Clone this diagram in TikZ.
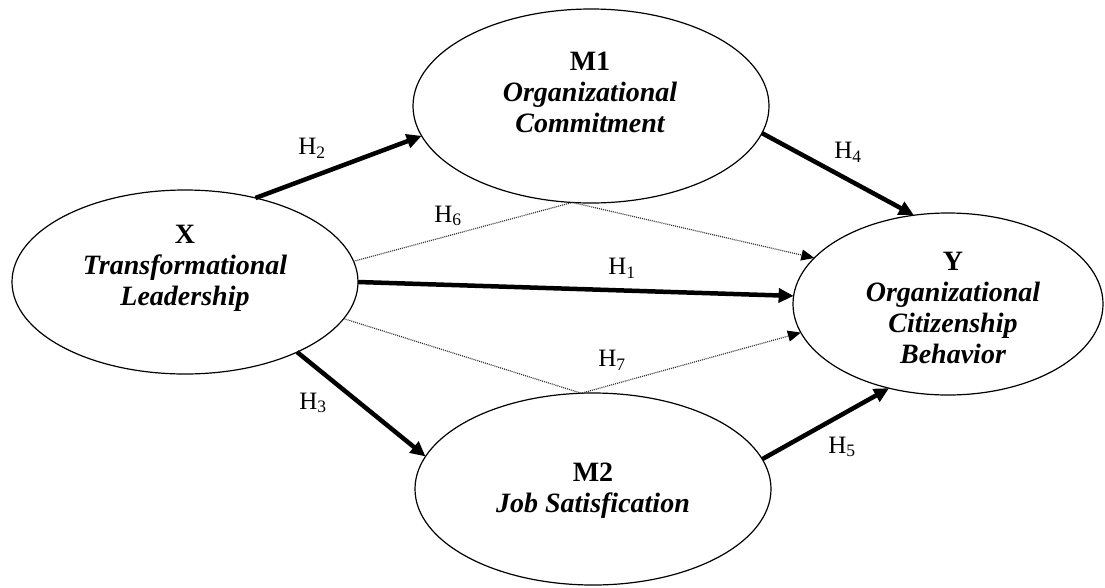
\documentclass[tikz,border=0pt]{standalone}
\usepackage{fontspec}
\setmainfont{Liberation Serif}
\usetikzlibrary{shapes.geometric,arrows.meta}

\begin{document}
\begin{tikzpicture}[x=1pt,y=-1pt]
        \tikzset{construct/.style={draw,ellipse,line width=1.2pt,inner sep=0pt,outer sep=0pt},
                 caption/.style={align=center,font=\fontsize{28}{31}\selectfont\bfseries},
                 direct/.style={line width=4.5pt,-{Triangle[length=15pt,width=14pt]}},
                 indirect/.style={line width=1.2pt,black!80,dash pattern=on 1pt off 1pt,
                                  -{Triangle[length=13pt,width=11pt,color=black]}},
                 hyp/.style={font=\fontsize{25}{25}\selectfont,inner sep=0pt}}
        \useasboundingbox (0,0) rectangle (1105,587);

        \node[construct, minimum width=346pt, minimum height=184pt] (x)  at (185,282) {};
        \node[construct, minimum width=356pt, minimum height=194pt] (m1) at (591,106) {};
        \node[construct, minimum width=310pt, minimum height=182pt] (y)  at (948,304) {};
        \node[construct, minimum width=356pt, minimum height=192pt] (m2) at (593,489) {};

        \node[caption] (xtext)  at (185,268) {X\\\itshape Transformational\\\itshape Leadership};
        \node[caption] (m1text) at (590,92)  {M1\\\itshape Organizational\\\itshape Commitment};
        \node[caption] (ytext)  at (953,308) {Y\\\itshape Organizational\\\itshape Citizenship\\\itshape Behavior};
        \node[caption] (m2text) at (593,491) {M2\\\itshape Job Satisfication};

        \draw[direct] (x.0) -- (y.177.8);
        \draw[direct] (x.50) -- (m1.190.6);
        \draw[direct] (x.-32.9) -- (m2.169.5);
        \draw[direct] (m1.-9.5) -- (y.111.4);
        \draw[direct] (m2.10) -- (y.235.4);

        \draw[indirect] (x.7.3) -- (m1.259.5) -- (y.161.9);
        \draw[indirect] (x.-13.4) -- (m2.97.7) -- (y.191.5);

        \node[hyp] (h1) at (622,268) {H\textsubscript{1}};
        \node[hyp] (h2) at (312,148) {H\textsubscript{2}};
        \node[hyp] (h3) at (313,403) {H\textsubscript{3}};
        \node[hyp] (h4) at (848,152) {H\textsubscript{4}};
        \node[hyp] (h5) at (842,447) {H\textsubscript{5}};
        \node[hyp] (h6) at (448,216) {H\textsubscript{6}};
        \node[hyp] (h7) at (612,360) {H\textsubscript{7}};
\end{tikzpicture}
\end{document}
